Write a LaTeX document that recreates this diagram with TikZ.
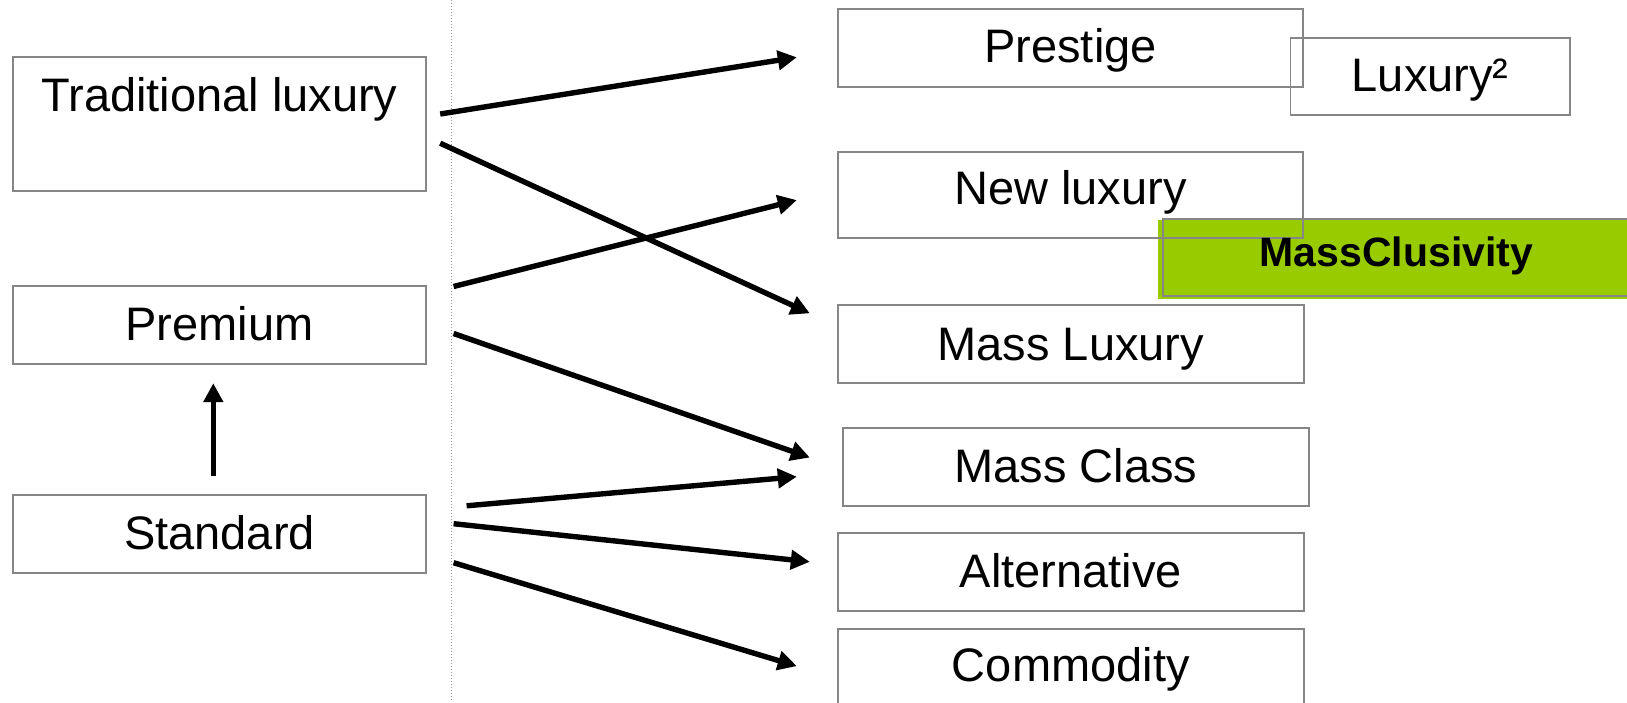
\documentclass[tikz,border=0pt]{standalone}
\usepackage{fontspec}
\setmainfont{Liberation Sans}
\usetikzlibrary{arrows.meta,calc}
\definecolor{boxgray}{RGB}{134,134,134}
\definecolor{dotgray}{RGB}{150,150,150}
\definecolor{limegreen}{RGB}{153,204,0}
\tikzset{
  seg/.style={draw=boxgray, line width=0.9pt, inner sep=0pt,
    font=\fontsize{23.5}{28}\selectfont},
  flow/.style={line width=2.7pt, -{Triangle[length=9.5pt,width=9.5pt]}},
}
\begin{document}
\begin{tikzpicture}[x=0.5pt, y=-0.5pt]
\useasboundingbox (0,0) rectangle (1627,702);

% divider between the two columns
\draw[dotgray, line width=0.5pt, dash pattern=on 0.5pt off 1pt] (451,0) -- (451,702);

% green backdrop of the MassClusivity band
\node[fill=limegreen, inner sep=0pt, minimum width=241pt, minimum height=39.5pt]
  (massbg) at (1399,259.5) {};

% left column
\node[seg, minimum width=206.5pt, text height=27pt, text depth=40pt] (trad) at (219.5,124) {Traditional luxury};
\node[seg, minimum width=206.5pt, text height=27pt, text depth=12pt] (prem) at (219.5,325) {Premium};
\node[seg, minimum width=206.5pt, text height=27pt, text depth=12pt] (std) at (219.5,534) {Standard};

% right column
\node[seg, minimum width=232.5pt, text height=26.65pt, text depth=12.35pt] (prestige) at (1070.5,48) {Prestige};
\node[seg, minimum width=139.75pt, text height=27pt, text depth=11.8pt] (luxsq) at (1430.2,76.5) {Luxury²};
\node[seg, minimum width=232.5pt, text height=26pt, text depth=16.85pt] (newlux) at (1070.5,195.2) {New luxury};
\node[seg, minimum width=233.5pt, text height=23.85pt, text depth=14.65pt,
  font=\fontsize{20.5}{24}\selectfont\bfseries] (massclus) at (1396.5,257.5) {MassClusivity};
\node[seg, minimum width=232.8pt, text height=27.5pt, text depth=11.35pt] (massluxury) at (1070.8,343.9) {Mass Luxury};
\node[seg, minimum width=232.9pt, text height=27.15pt, text depth=11.85pt] (massclass) at (1076.1,467) {Mass Class};
\node[seg, minimum width=232.8pt, text height=27.2pt, text depth=11.65pt] (alternative) at (1070.8,572.2) {Alternative};
\node[seg, minimum width=232.8pt, text height=26.2pt, text depth=12.8pt] (commodity) at (1070.8,668.3) {Commodity};

% transitions
\draw[flow] ($(trad.east)+(13.3,-10)$) -- ($(prestige.west)+(-40.3,9.3)$);
\draw[flow] ($(trad.east)+(13.3,19.2)$) -- ($(massluxury.west)+(-27.3,-30.6)$);
\draw[flow] ($(prem.east)+(26.7,-38.5)$) -- ($(newlux.west)+(-40.3,4.9)$);
\draw[flow] ($(prem.east)+(26.7,8.5)$) -- ($(massclass.west)+(-32.5,-9.5)$);
\draw[flow] ($(std.east)+(39.7,-28.2)$) -- ($(massclass.west)+(-45.5,9.7)$);
\draw[flow] ($(std.east)+(26.7,-10.3)$) -- ($(alternative.west)+(-27.3,-10.4)$);
\draw[flow] ($(std.east)+(26.7,28.7)$) -- ($(commodity.west)+(-40.3,-2.2)$);
\draw[flow] ($(std.north)+(-6.2,-18.3)$) -- ($(prem.south)+(-6.2,18.3)$);
\end{tikzpicture}
\end{document}
